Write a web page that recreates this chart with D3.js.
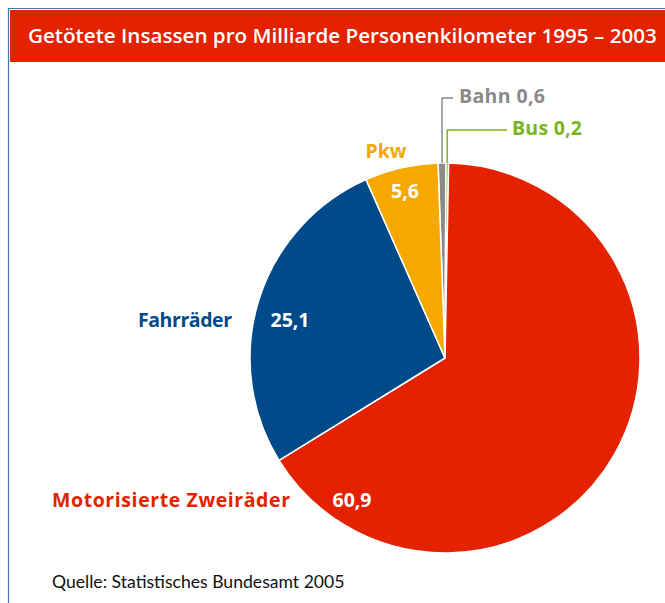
<!DOCTYPE html>
<html><head><meta charset="utf-8">
<script src="https://cdn.jsdelivr.net/npm/d3@7"></script>
<style>
html,body{margin:0;padding:0;background:#fff;}
svg{display:block;}
text{font-family:"Open Sans",Lato,sans-serif;}
</style></head>
<body>
<svg id="chart" width="665" height="603"></svg>
<script>
const titleText = "Getötete Insassen pro Milliarde Personenkilometer 1995 – 2003";
const sourceText = "Quelle: Statistisches Bundesamt 2005";
const categories = ["Bahn", "Bus", "Motorisierte Zweiräder", "Fahrräder", "Pkw"];
const values = [0.6, 0.2, 60.9, 25.1, 5.6];
const valueLabels = ["0,6", "0,2", "60,9", "25,1", "5,6"];
const colors = ["#8a8a8a", "#7ab51d", "#e52200", "#004a8a", "#f5a800"];

const svg = d3.select("#chart");
const W = 665, H = 603;

// frame
svg.append("line").attr("x1", 8.5).attr("x2", 8.5).attr("y1", 8).attr("y2", H).attr("stroke", "#4a72a8").attr("stroke-width", 1.2);
svg.append("line").attr("x1", 8).attr("x2", W).attr("y1", 8.5).attr("y2", 8.5).attr("stroke", "#4a72a8").attr("stroke-width", 1.2);
svg.append("rect").attr("x", 10).attr("y", 10).attr("width", W - 10).attr("height", 52).attr("fill", "#e52200");
const title = svg.append("text").attr("x", 28).attr("y", 43).attr("fill", "#fff").attr("font-size", 20).attr("font-weight", 600).text(titleText);
const tw = title.node().getComputedTextLength();
title.attr("font-size", 20 * 629 / tw);

const cx = 445, cy = 358, R = 195;
const data = categories.map((c, i) => ({ cat: c, value: values[i], label: valueLabels[i], color: colors[i] }));
const startA = -2.05 * Math.PI / 180;
const pie = d3.pie().sort(null).value(d => d.value).startAngle(startA).endAngle(startA + 2 * Math.PI);
const arc = d3.arc().innerRadius(0).outerRadius(R);
const arcs = pie(data);
const g = svg.append("g").attr("transform", `translate(${cx},${cy})`);
g.selectAll("path").data(arcs).join("path")
  .attr("d", arc).attr("fill", d => d.data.color)
  .attr("stroke", "#fff").attr("stroke-width", 1.5).attr("stroke-linejoin", "round");

// leader lines for thin slices
const leaders = [
  { i: 0, y: 98, x2: 453 },
  { i: 1, y: 130, x2: 507 }
];
leaders.forEach(l => {
  const a = arcs[l.i];
  const mid = (a.startAngle + a.endAngle) / 2;
  const px = cx + R * Math.sin(mid);
  const py = cy - R * Math.cos(mid);
  svg.append("polyline")
    .attr("points", `${px},${py} ${px},${l.y} ${l.x2},${l.y}`)
    .attr("fill", "none").attr("stroke", colors[l.i]).attr("stroke-width", 1.5);
});

// outside labels
const outside = [
  { i: 0, x: 459, y: 103, text: categories[0] + " " + valueLabels[0], anchor: "start", w: 86 },
  { i: 1, x: 512, y: 135, text: categories[1] + " " + valueLabels[1], anchor: "start", w: 70 },
  { i: 4, x: 386, y: 158, text: categories[4], anchor: "middle", w: 41 },
  { i: 3, x: 232, y: 327, text: categories[3], anchor: "end", w: 94 },
  { i: 2, x: 290, y: 507, text: categories[2], anchor: "end", w: 238 }
];
outside.forEach(o => {
  svg.append("text").attr("x", o.x).attr("y", o.y).attr("text-anchor", o.anchor)
    .attr("fill", colors[o.i]).attr("font-size", 19.5).attr("font-weight", 700)
    .attr("textLength", o.w).attr("lengthAdjust", "spacing").text(o.text);
});

// inside value labels
const inside = [
  { i: 4, x: 405, y: 198 },
  { i: 3, x: 290, y: 327 },
  { i: 2, x: 352, y: 507 }
];
inside.forEach(o => {
  svg.append("text").attr("x", o.x).attr("y", o.y).attr("text-anchor", "middle")
    .attr("fill", "#fff").attr("font-size", 19.5).attr("font-weight", 700).text(valueLabels[o.i]);
});

svg.append("text").attr("x", 52).attr("y", 588).attr("fill", "#111").attr("font-size", 17.6)
  .style("font-family", "Lato, sans-serif").text(sourceText);
</script>
</body></html>
